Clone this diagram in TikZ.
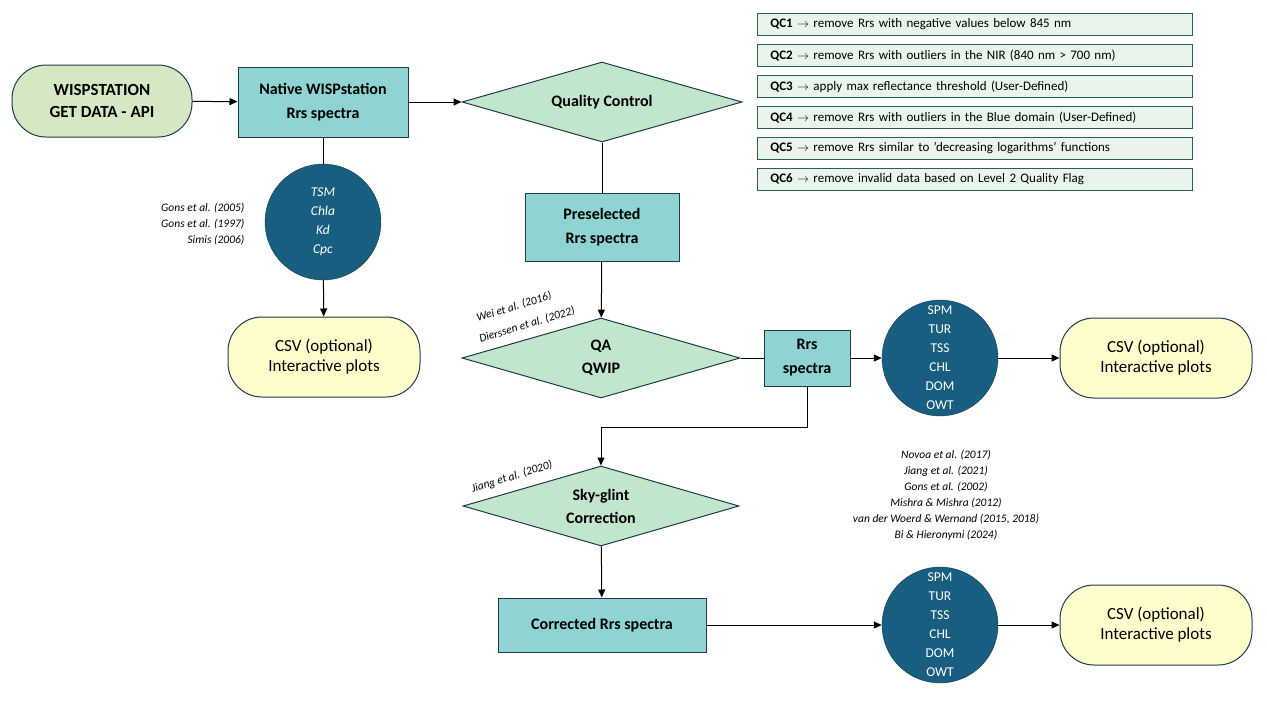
\documentclass[tikz,border=0pt]{standalone}
\usepackage{fontspec}
\setmainfont{Carlito}
\usetikzlibrary{shapes.geometric,arrows.meta}
\definecolor{bord}{HTML}{1F3A4D}
\definecolor{gfill}{HTML}{D5E8C4}
\definecolor{tfill}{HTML}{8FD3D3}
\definecolor{dfill}{HTML}{C2E6CB}
\definecolor{qfill}{HTML}{E9F5EC}
\definecolor{qbord}{HTML}{2E5E4E}
\definecolor{cfill}{HTML}{185E80}
\definecolor{yfill}{HTML}{FFFDCC}
\tikzset{
 x=1pt,y=-1pt,
 base/.style={draw=bord,line width=1pt,align=center,inner sep=0pt},
 stad/.style={base,rounded corners=34pt,font=\fontsize{17}{20}\selectfont},
 tbox/.style={base,fill=tfill,font=\bfseries\fontsize{16}{24}\selectfont},
 dia/.style={base,diamond,aspect=3.5,fill=dfill,font=\bfseries\fontsize{16}{23}\selectfont},
 qc/.style={draw=qbord,fill=qfill,line width=0.8pt,minimum width=435pt,minimum height=22pt,anchor=north west,inner sep=0pt,text width=425pt,font=\fontsize{13}{15}\selectfont},
 circ/.style={circle,fill=cfill,draw=bord,minimum size=116pt,inner sep=0pt,text=white,align=center,font=\fontsize{13.5}{19}\selectfont},
 refs/.style={font=\itshape\fontsize{11.5}{16}\selectfont,align=center},
 arr/.style={line width=1pt,-{Triangle[length=8pt,width=7pt]}},
 ln/.style={line width=1pt}
}
\begin{document}
\begin{tikzpicture}
\useasboundingbox (0,0) rectangle (1267,713);
\node[stad,fill=gfill,font=\bfseries\fontsize{17}{22}\selectfont,minimum width=180pt,minimum height=72pt] (wisp) at (102,101) {WISPSTATION\\GET DATA - API};
\node[tbox,minimum width=170pt,minimum height=70pt] (nat) at (323,102) {Native WISPstation\\Rrs spectra};
\node[dia,minimum width=280pt,minimum height=80pt] (qcd) at (602,102) {Quality Control};
\foreach \i/\t [count=\k from 0] in {1/remove Rrs with negative values below 845 nm,2/remove Rrs with outliers in the NIR (840 nm > 700 nm),3/apply max reflectance threshold (User-Defined),4/remove Rrs with outliers in the Blue domain (User-Defined),5/remove Rrs similar to 'decreasing logarithms' functions,6/remove invalid data based on Level 2 Quality Flag}
 \node[qc] (qc\i) at (757,{13+31*\k}) {\hspace*{8pt}\textbf{QC\i} $\rightarrow$ \t};
\node[circ,font=\itshape\fontsize{13.5}{19}\selectfont] (c1) at (323,222) {TSM\\Chla\\Kd\\Cpc};
\node[refs,align=right,anchor=east] (r1) at (248,224) {Gons et al. (2005)\\Gons et al. (1997)\\Simis (2006)};
\node[stad,fill=yfill,minimum width=192pt,minimum height=80pt] (csv1) at (324,357) {CSV (optional)\\Interactive plots};
\node[tbox,minimum width=154pt,minimum height=68pt] (pre) at (602,227) {Preselected\\Rrs spectra};
\node[dia,minimum width=278pt,minimum height=80pt] (qa) at (601,358) {QA\\QWIP};
\node[refs,rotate=17] (ra) at (514,307) {Wei et al. (2016)};
\node[refs,rotate=17] (rb) at (527,325) {Dierssen et al. (2022)};
\node[tbox,minimum width=86pt,minimum height=56pt] (rrs) at (807,358) {Rrs\\spectra};
\node[circ] (c2) at (940,358) {SPM\\TUR\\TSS\\CHL\\DOM\\OWT};
\node[stad,fill=yfill,minimum width=192pt,minimum height=80pt] (csv2) at (1156,358) {CSV (optional)\\Interactive plots};
\node[dia,minimum width=276pt,minimum height=80pt] (sky) at (601,506) {Sky-glint\\Correction};
\node[refs,rotate=17] (rc) at (512,477) {Jiang et al. (2020)};
\node[refs] (r2) at (946,495) {Novoa et al. (2017)\\Jiang et al. (2021)\\Gons et al. (2002)\\Mishra \& Mishra (2012)\\van der Woerd \& Wernand (2015, 2018)\\Bi \& Hieronymi (2024)};
\node[tbox,minimum width=208pt,minimum height=54pt] (cor) at (602,625) {Corrected Rrs spectra};
\node[circ] (c3) at (940,625) {SPM\\TUR\\TSS\\CHL\\DOM\\OWT};
\node[stad,fill=yfill,minimum width=192pt,minimum height=80pt] (csv3) at (1156,625) {CSV (optional)\\Interactive plots};
\draw[arr] (wisp) -- (nat);
\draw[arr] (nat) -- (qcd);
\draw[ln] (nat) -- (c1);
\draw[arr] (c1) -- (csv1);
\draw[ln] (qcd) -- (pre);
\draw[arr] (pre) -- (qa);
\draw[ln] (qa) -- (rrs);
\draw[arr] (rrs) -- (c2);
\draw[arr] (c2) -- (csv2);
\draw[arr] (rrs.south) |- (601,427) -- (sky.north);
\draw[arr] (sky) -- (cor);
\draw[arr] (cor) -- (c3);
\draw[arr] (c3) -- (csv3);
\end{tikzpicture}
\end{document}
